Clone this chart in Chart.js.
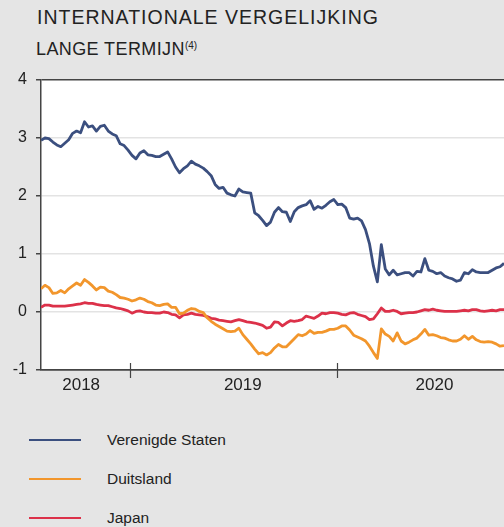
<!DOCTYPE html>
<html>
<head>
<meta charset="utf-8">
<script src="https://cdn.jsdelivr.net/npm/chart.js@4.4.0/dist/chart.umd.min.js"></script>
<style>
  html, body { margin: 0; padding: 0; width: 504px; height: 527px; overflow: hidden;
    background: #e5e5e5; font-family: "Liberation Sans", Arial, sans-serif; color: #222; }
  #title { position: absolute; left: 37px; top: 6px; font-size: 19.5px; letter-spacing: 1px; white-space: nowrap; }
  #subtitle { position: absolute; left: 36px; top: 39px; font-size: 18px; letter-spacing: 0.4px; white-space: nowrap; }
  #subtitle sup { font-size: 10px; vertical-align: 6px; letter-spacing: 0; }
  #chart { position: absolute; left: 0; top: 0; }
  .item { position: absolute; left: 29px; height: 20px; width: 300px; }
  .item .line { position: absolute; left: 0; top: 9px; width: 52px; height: 2px; }
  .item .txt { position: absolute; left: 78px; top: 1px; font-size: 15.5px; white-space: nowrap; }
</style>
</head>
<body>
<div id="title">INTERNATIONALE VERGELIJKING</div>
<div id="subtitle">LANGE TERMIJN<sup>(4)</sup></div>
<canvas id="chart" width="504" height="400"></canvas>
<div id="legend"></div>
<script>
// weekly observations, first one on startDate
const startDate = '2018-07-27';

const usValues = [
  2.96, 3.00, 2.99, 2.93, 2.88, 2.85, 2.91, 2.97, 3.08, 3.12,
  3.09, 3.28, 3.19, 3.21, 3.12, 3.20, 3.22, 3.12, 3.07, 3.04,
  2.90, 2.87, 2.79, 2.70, 2.64, 2.74, 2.78, 2.71, 2.70, 2.68,
  2.68, 2.72, 2.76, 2.64, 2.50, 2.40, 2.47, 2.52, 2.60, 2.55,
  2.52, 2.48, 2.42, 2.35, 2.20, 2.13, 2.15, 2.05, 2.02, 2.00,
  2.12, 2.07, 2.06, 2.05, 1.71, 1.66, 1.58, 1.49, 1.55, 1.72,
  1.80, 1.73, 1.72, 1.56, 1.73, 1.80, 1.83, 1.85, 1.92, 1.77,
  1.82, 1.79, 1.84, 1.90, 1.94, 1.85, 1.86, 1.80, 1.62, 1.60,
  1.62, 1.57, 1.42, 1.18, 0.79, 0.52, 1.16, 0.74, 0.64, 0.72,
  0.64, 0.66, 0.68, 0.68, 0.62, 0.70, 0.69, 0.92, 0.72, 0.70,
  0.66, 0.68, 0.62, 0.59, 0.57, 0.53, 0.55, 0.68, 0.66, 0.73,
  0.69, 0.68, 0.68, 0.68, 0.72, 0.76, 0.78, 0.84
];

const deValues = [
  0.40, 0.46, 0.42, 0.32, 0.33, 0.37, 0.33, 0.40, 0.45, 0.50,
  0.46, 0.56, 0.51, 0.45, 0.38, 0.43, 0.42, 0.36, 0.34, 0.30,
  0.25, 0.24, 0.22, 0.19, 0.21, 0.24, 0.22, 0.18, 0.16, 0.12,
  0.11, 0.13, 0.14, 0.08, 0.08, -0.03, -0.02, 0.03, 0.06, 0.05,
  0.01, -0.01, -0.10, -0.16, -0.21, -0.25, -0.29, -0.33, -0.34, -0.33,
  -0.28, -0.39, -0.47, -0.55, -0.64, -0.72, -0.70, -0.74, -0.70, -0.62,
  -0.56, -0.60, -0.60, -0.53, -0.46, -0.39, -0.41, -0.38, -0.32, -0.37,
  -0.35, -0.35, -0.33, -0.30, -0.30, -0.28, -0.24, -0.24, -0.31, -0.40,
  -0.43, -0.46, -0.50, -0.59, -0.70, -0.80, -0.29, -0.38, -0.42, -0.50,
  -0.36, -0.50, -0.55, -0.52, -0.48, -0.45, -0.38, -0.30, -0.40, -0.39,
  -0.41, -0.44, -0.45, -0.48, -0.50, -0.50, -0.47, -0.41, -0.47, -0.42,
  -0.48, -0.51, -0.52, -0.51, -0.52, -0.55, -0.59, -0.58
];

const jpValues = [
  0.08, 0.12, 0.12, 0.10, 0.10, 0.10, 0.10, 0.11, 0.12, 0.13,
  0.14, 0.16, 0.15, 0.15, 0.13, 0.12, 0.11, 0.11, 0.09, 0.07,
  0.06, 0.04, 0.02, -0.02, 0.01, 0.02, 0.00, -0.01, -0.01, -0.02,
  -0.02, 0.00, -0.01, -0.04, -0.05, -0.10, -0.05, -0.04, -0.02, -0.04,
  -0.05, -0.06, -0.08, -0.11, -0.12, -0.14, -0.15, -0.16, -0.17, -0.15,
  -0.13, -0.15, -0.17, -0.18, -0.19, -0.21, -0.23, -0.28, -0.26, -0.17,
  -0.18, -0.24, -0.19, -0.15, -0.16, -0.15, -0.13, -0.07, -0.09, -0.11,
  -0.07, -0.02, -0.03, -0.01, -0.01, -0.02, -0.04, -0.05, -0.02, -0.01,
  -0.04, -0.06, -0.08, -0.13, -0.12, -0.03, 0.07, 0.01, 0.01, 0.03,
  0.01, -0.03, -0.02, -0.01, -0.01, 0.00, 0.02, 0.04, 0.03, 0.05,
  0.03, 0.02, 0.01, 0.01, 0.01, 0.01, 0.02, 0.03, 0.02, 0.04,
  0.04, 0.02, 0.01, 0.02, 0.03, 0.02, 0.04, 0.04
];

const seriesNames = ['Verenigde Staten', 'Duitsland', 'Japan'];
const seriesColors = ['#3b4f7f', '#f2962c', '#dc3149'];

const yearLabels = ['2018', '2019', '2020'];
const yearLabelDates = ['2018-10-06', '2019-07-19', '2020-06-22'];
const yearBreaks = ['2019-01-01', '2020-01-01'];

const WEEK = 7 * 24 * 3600 * 1000;
const t0 = Date.parse(startDate);
const toPoints = vals => vals.map((v, i) => ({ x: t0 + i * WEEK, y: v }));
const tEnd = t0 + (usValues.length - 1) * WEEK;

// white plot area on grey page
const plotBg = {
  id: 'plotBg',
  beforeDraw(chart) {
    const { ctx, chartArea: a } = chart;
    ctx.save();
    ctx.fillStyle = '#ffffff';
    ctx.fillRect(a.left, a.top, a.width, a.height);
    ctx.restore();
  }
};

// year separators crossing the bottom axis
const yearTicks = {
  id: 'yearTicks',
  afterDraw(chart) {
    const sx = chart.scales.x;
    const ctx = chart.ctx;
    ctx.save();
    ctx.strokeStyle = '#444';
    ctx.lineWidth = 1.2;
    yearBreaks.forEach(d => {
      const px = Math.round(sx.getPixelForValue(Date.parse(d))) + 0.5;
      ctx.beginPath();
      ctx.moveTo(px, sx.top - 7);
      ctx.lineTo(px, sx.top + 8);
      ctx.stroke();
    });
    ctx.restore();
  }
};

const seriesData = [usValues, deValues, jpValues];

const ctx = document.getElementById('chart').getContext('2d');
const chart = new Chart(ctx, {
  type: 'line',
  data: {
    datasets: seriesData.map((vals, i) => ({
      label: seriesNames[i],
      data: toPoints(vals),
      borderColor: seriesColors[i],
      backgroundColor: seriesColors[i],
      borderWidth: 2.8,
      pointRadius: 0,
      tension: 0,
      borderJoinStyle: 'round'
    }))
  },
  options: {
    responsive: false,
    animation: false,
    devicePixelRatio: 1,
    layout: { padding: { top: 80, right: 0, left: 0, bottom: 0 } },
    plugins: { legend: { display: false }, tooltip: { enabled: false } },
    scales: {
      x: {
        type: 'linear',
        min: t0,
        max: tEnd,
        afterFit: s => { s.height = 30; },
        afterBuildTicks: s => { s.ticks = yearLabelDates.map(d => ({ value: Date.parse(d) })); },
        ticks: {
          autoSkip: false,
          maxRotation: 0,
          padding: 5,
          color: '#222',
          font: { family: '"Liberation Sans", Arial, sans-serif', size: 17 },
          callback: (v, i) => yearLabels[i]
        },
        grid: { display: false, drawTicks: false },
        border: { display: true, color: '#444', width: 1.5 }
      },
      y: {
        min: -1,
        max: 4,
        afterFit: s => { s.width = 41; },
        ticks: {
          stepSize: 1,
          padding: 9,
          color: '#222',
          font: { family: '"Liberation Sans", Arial, sans-serif', size: 16 }
        },
        grid: {
          color: c => (c.tick && (c.tick.value === 4 || c.tick.value === -1)) ? '#444' : '#e3e3e3',
          lineWidth: 1.5,
          tickColor: '#444',
          tickLength: 5
        },
        border: { display: true, color: '#444', width: 1.5 }
      }
    }
  },
  plugins: [plotBg, yearTicks]
});

// legend below the chart
const legendTops = [430, 469, 508];
const legend = document.getElementById('legend');
chart.data.datasets.forEach((ds, i) => {
  const item = document.createElement('div');
  item.className = 'item';
  item.style.top = legendTops[i] + 'px';
  item.innerHTML = '<div class="line" style="background:' + ds.borderColor + '"></div>' +
    '<div class="txt">' + ds.label + '</div>';
  legend.appendChild(item);
});
</script>
</body>
</html>
